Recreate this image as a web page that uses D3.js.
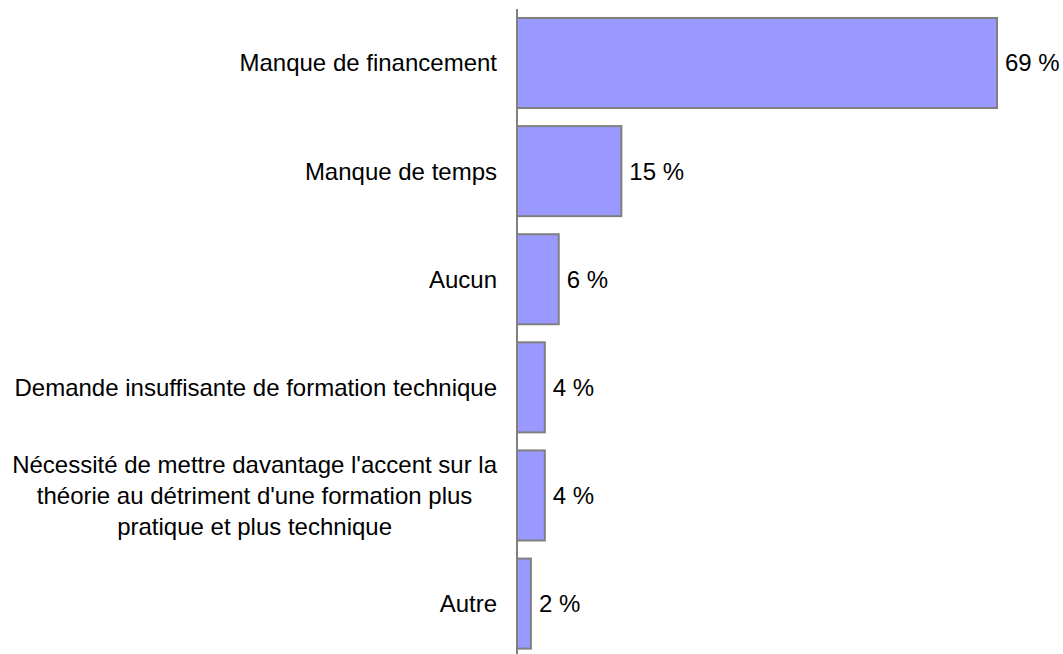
<!DOCTYPE html>
<html>
<head>
<meta charset="utf-8">
<script src="https://d3js.org/d3.v7.min.js"></script>
<style>
  body { margin: 0; background: #fff; }
  text { font-family: "Liberation Sans", Arial, sans-serif; font-size: 24px; fill: #000; }
</style>
</head>
<body>
<script>
var WIDTH = 1063,
    HEIGHT = 654;

var categories = [
  "Manque de financement",
  "Manque de temps",
  "Aucun",
  "Demande insuffisante de formation technique",
  ["Nécessité de mettre davantage l'accent sur la", "théorie au détriment d'une formation plus", "pratique et plus technique"],
  "Autre"
];
var values = [69, 15, 6, 4, 4, 2];
var valueLabels = ["69 %", "15 %", "6 %", "4 %", "4 %", "2 %"];

var axisX = 517;

var svg = d3.select("body").append("svg")
    .attr("width", WIDTH)
    .attr("height", HEIGHT);

var x = d3.scaleLinear()
    .domain([0, 69])
    .range([axisX, 997]);

var y = d3.scaleBand()
    .domain(d3.range(values.length))
    .range([9, 657.6])
    .paddingInner(0.167)
    .paddingOuter(0.083);

svg.selectAll("rect.bar")
    .data(values)
  .enter().append("rect")
    .attr("class", "bar")
    .attr("x", x(0))
    .attr("y", function(d, i) { return y(i); })
    .attr("width", function(d) { return x(d) - x(0); })
    .attr("height", y.bandwidth())
    .style("fill", "#9999ff")
    .style("stroke", "#808080")
    .style("stroke-width", 2);

// axis line
svg.append("line")
    .attr("x1", axisX).attr("x2", axisX)
    .attr("y1", 9).attr("y2", 654)
    .style("stroke", "#808080")
    .style("stroke-width", 2);

// value labels
svg.selectAll("text.val")
    .data(values)
  .enter().append("text")
    .attr("class", "val")
    .attr("x", function(d) { return x(d) + 8; })
    .attr("y", function(d, i) { return y(i) + y.bandwidth() / 2; })
    .attr("dy", "0.35em")
    .text(function(d, i) { return valueLabels[i]; });

// category labels
var labelRight = 497;
var lineH = 31;
categories.forEach(function(c, i) {
  var cy = y(i) + y.bandwidth() / 2;
  if (typeof c === "string") {
    svg.append("text")
      .attr("x", labelRight)
      .attr("y", cy)
      .attr("dy", "0.35em")
      .attr("text-anchor", "end")
      .text(c);
  } else {
    var g = svg.append("g");
    var lines = c.map(function(s, j) {
      return g.append("text")
        .attr("y", cy + (j - (c.length - 1) / 2) * lineH)
        .attr("dy", "0.35em")
        .attr("text-anchor", "middle")
        .text(s);
    });
    var maxW = d3.max(lines, function(t) { return t.node().getComputedTextLength(); });
    lines.forEach(function(t) { t.attr("x", labelRight - maxW / 2); });
  }
});
</script>
</body>
</html>
